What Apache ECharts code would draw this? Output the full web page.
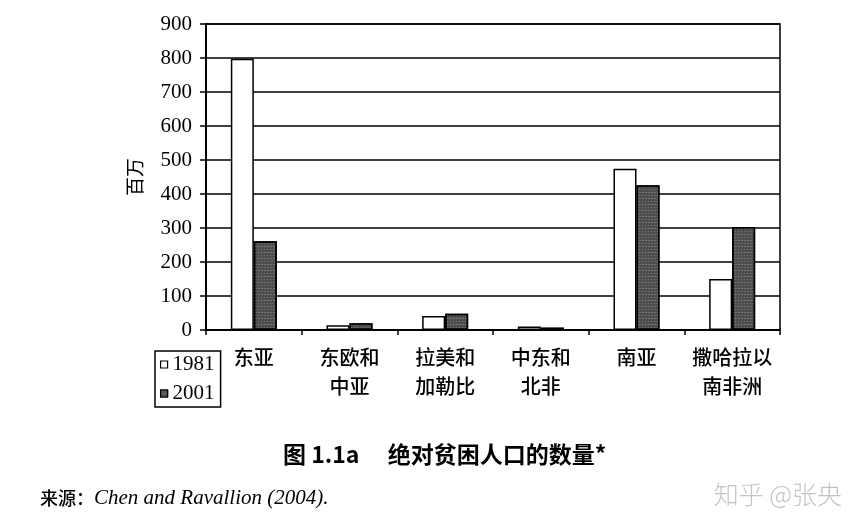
<!DOCTYPE html>
<html>
<head>
<meta charset="utf-8">
<script src="https://cdn.jsdelivr.net/npm/echarts@6/dist/echarts.min.js"></script>
<style>
  html, body { margin: 0; padding: 0; background: #fff; }
  #chart { width: 860px; height: 532px; }
</style>
</head>
<body>
<div id="chart"></div>
<script>
// 数据
var regions = ['东亚', '东欧和\n中亚', '拉美和\n加勒比', '中东和\n北非', '南亚', '撒哈拉以\n南非洲'];
var years = ['1981', '2001'];
var poor1981 = [798, 14, 41, 10, 474, 150];
var poor2001 = [261, 20, 48, 7, 426, 303];
var yTicks = [0, 900, 100]; // min, max, interval

var serif = '"Liberation Serif", "Times New Roman", serif';
var cjk = '"Noto Sans CJK SC", sans-serif';

var chart = echarts.init(document.getElementById('chart'));

chart.setOption({
  animation: false,
  backgroundColor: '#fff',
  grid: {
    left: 206, right: 80, top: 24, bottom: 202,
    show: true, borderColor: '#000', borderWidth: 1.5
  },
  legend: {
    orient: 'vertical',
    left: 155, top: 351,
    padding: [3, 6, 3, 5],
    itemWidth: 7, itemHeight: 7,
    itemGap: 8,
    borderColor: '#000', borderWidth: 1.5,
    textStyle: { fontFamily: serif, fontSize: 21, color: '#000' },
    data: [
      { name: years[0], icon: 'rect', itemStyle: { color: '#fff', borderColor: '#000', borderWidth: 1.2 } },
      { name: years[1], icon: 'rect', itemStyle: { color: '#555', borderColor: '#000', borderWidth: 1.2 } }
    ]
  },
  xAxis: {
    type: 'category',
    data: regions,
    axisLine: { lineStyle: { color: '#000', width: 2 } },
    axisTick: { show: true, length: 5, alignWithLabel: false, interval: 0, lineStyle: { color: '#000', width: 1.5 } },
    axisLabel: {
      interval: 0, margin: 13, color: '#000',
      fontFamily: cjk, fontSize: 20, fontWeight: 500, lineHeight: 29
    }
  },
  yAxis: {
    type: 'value',
    min: yTicks[0], max: yTicks[1], interval: yTicks[2],
    name: '百万',
    nameLocation: 'middle',
    nameGap: 62,
    nameRotate: 90,
    nameTextStyle: { fontFamily: cjk, fontSize: 19, color: '#000' },
    axisLine: { show: true, lineStyle: { color: '#000', width: 2 } },
    axisTick: { show: true, length: 6, lineStyle: { color: '#000', width: 1.5 } },
    axisLabel: { margin: 14, color: '#000', fontFamily: serif, fontSize: 21 },
    splitLine: { show: true, lineStyle: { color: '#000', width: 1.5 } }
  },
  series: [
    {
      name: years[0], type: 'bar', data: poor1981,
      barWidth: 23, barGap: '0%',
      itemStyle: { color: '#fff', borderColor: '#000', borderWidth: 1.5 }
    },
    {
      name: years[1], type: 'bar', data: poor2001,
      barWidth: 23,
      itemStyle: {
        color: '#4e4e4e', borderColor: '#000', borderWidth: 1.5,
        decal: {
          symbol: 'rect', symbolSize: 1,
          color: 'rgba(160,160,160,0.5)',
          dashArrayX: [[1, 2], [2, 1]], dashArrayY: [1, 2],
          rotation: 0
        }
      }
    }
  ],
  graphic: [
    {
      type: 'text', left: 283, top: 443,
      style: {
        text: '图 1.1a　 绝对贫困人口的数量*',
        font: 'bold 23px "Noto Sans CJK SC", sans-serif',
        fill: '#000'
      }
    },
    {
      type: 'text', left: 40, top: 488,
      style: {
        text: '{a|来源：}{b|Chen and Ravallion (2004).}',
        rich: {
          a: { fontFamily: cjk, fontSize: 18, fontWeight: 500, fill: '#000' },
          b: { fontFamily: serif, fontStyle: 'italic', fontSize: 21, fill: '#000' }
        }
      }
    },
    {
      type: 'text', right: 18, top: 482,
      style: {
        text: '知乎 @张央',
        font: '300 25px "Noto Sans CJK SC", sans-serif',
        fill: '#c4c4c4'
      }
    }
  ]
});
</script>
</body>
</html>
